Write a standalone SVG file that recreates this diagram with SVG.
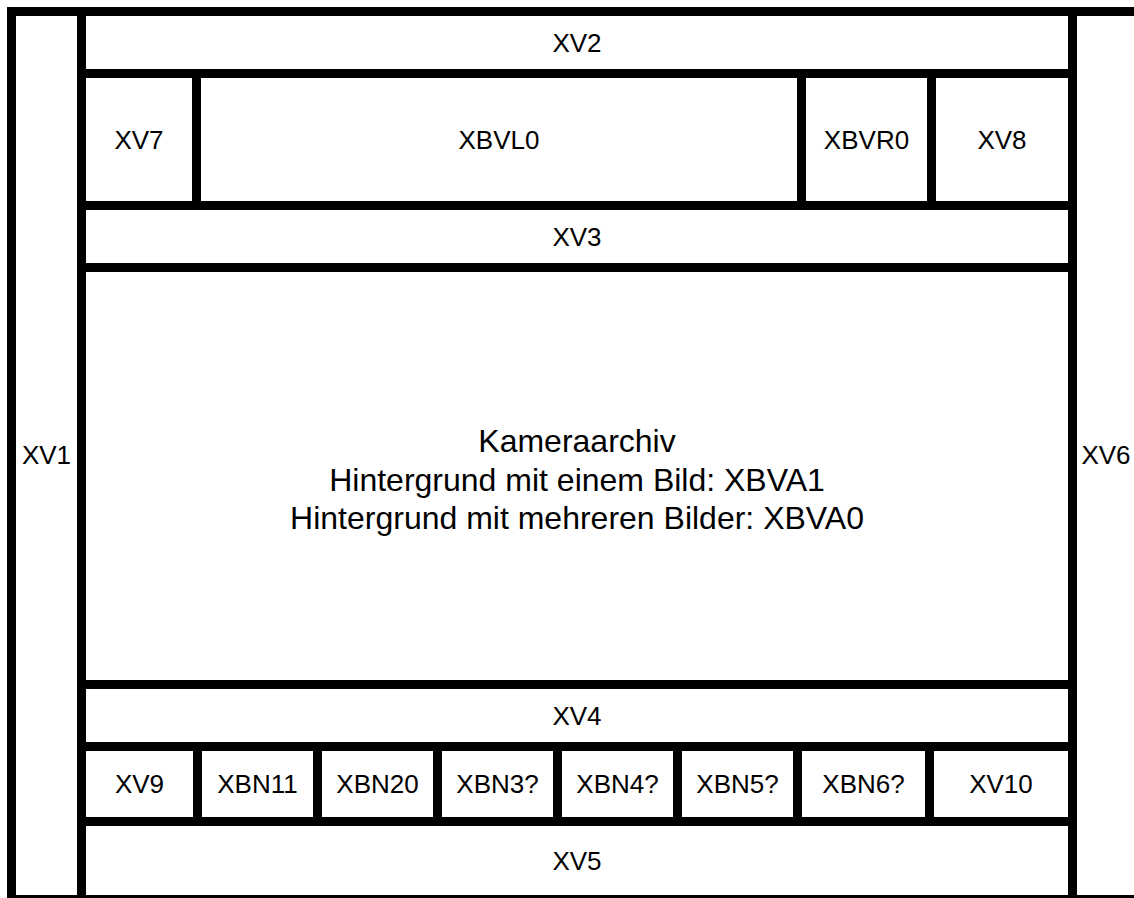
<svg xmlns="http://www.w3.org/2000/svg" width="1134" height="898" viewBox="0 0 1134 898">
<style>
rect.b{fill:#fff;stroke:#000;stroke-width:9}
text{font-family:"Liberation Sans",Arial,sans-serif;font-size:26px;fill:#000;text-anchor:middle}
text.big{font-size:32px}
</style>
<rect width="1134" height="898" fill="#fff"/>
<g id="XV1"><rect class="b" x="11.5" y="11.5" width="70" height="888"/><text x="46.5" y="464">XV1</text></g>
<g id="XV6"><rect class="b" x="1072.5" y="11.5" width="80" height="888"/><text x="1106" y="464">XV6</text></g>
<g id="XV2"><rect class="b" x="81.5" y="11.5" width="991" height="62"/><text x="577" y="52">XV2</text></g>
<g id="XV7"><rect class="b" x="81.5" y="73.5" width="115" height="132"/><text x="139" y="149">XV7</text></g>
<g id="XBVL0"><rect class="b" x="196.5" y="73.5" width="605" height="132"/><text x="499" y="149">XBVL0</text></g>
<g id="XBVR0"><rect class="b" x="801.5" y="73.5" width="130" height="132"/><text x="866.5" y="149">XBVR0</text></g>
<g id="XV8"><rect class="b" x="931.5" y="73.5" width="141" height="132"/><text x="1002" y="149">XV8</text></g>
<g id="XV3"><rect class="b" x="81.5" y="205.5" width="991" height="62"/><text x="577" y="246">XV3</text></g>
<g id="Kameraarchiv"><rect class="b" x="81.5" y="267.5" width="991" height="417"/>
<text class="big" x="577" y="452">Kameraarchiv</text>
<text class="big" x="577" y="490.5">Hintergrund mit einem Bild: XBVA1</text>
<text class="big" x="577" y="529">Hintergrund mit mehreren Bilder: XBVA0</text></g>
<g id="XV4"><rect class="b" x="81.5" y="684.5" width="991" height="62"/><text x="577" y="725">XV4</text></g>
<g id="XV9"><rect class="b" x="81.5" y="746.5" width="116" height="75"/><text x="139.5" y="793">XV9</text></g>
<g id="XBN11"><rect class="b" x="197.5" y="746.5" width="120" height="75"/><text x="257.5" y="793">XBN11</text></g>
<g id="XBN20"><rect class="b" x="317.5" y="746.5" width="120" height="75"/><text x="377.5" y="793">XBN20</text></g>
<g id="XBN3"><rect class="b" x="437.5" y="746.5" width="120" height="75"/><text x="497.5" y="793">XBN3?</text></g>
<g id="XBN4"><rect class="b" x="557.5" y="746.5" width="120" height="75"/><text x="617.5" y="793">XBN4?</text></g>
<g id="XBN5"><rect class="b" x="677.5" y="746.5" width="120" height="75"/><text x="737.5" y="793">XBN5?</text></g>
<g id="XBN6"><rect class="b" x="797.5" y="746.5" width="132" height="75"/><text x="863.5" y="793">XBN6?</text></g>
<g id="XV10"><rect class="b" x="929.5" y="746.5" width="143" height="75"/><text x="1001" y="793">XV10</text></g>
<g id="XV5"><rect class="b" x="81.5" y="821.5" width="991" height="78"/><text x="577" y="870">XV5</text></g>
<g id="connectors"></g>
</svg>
